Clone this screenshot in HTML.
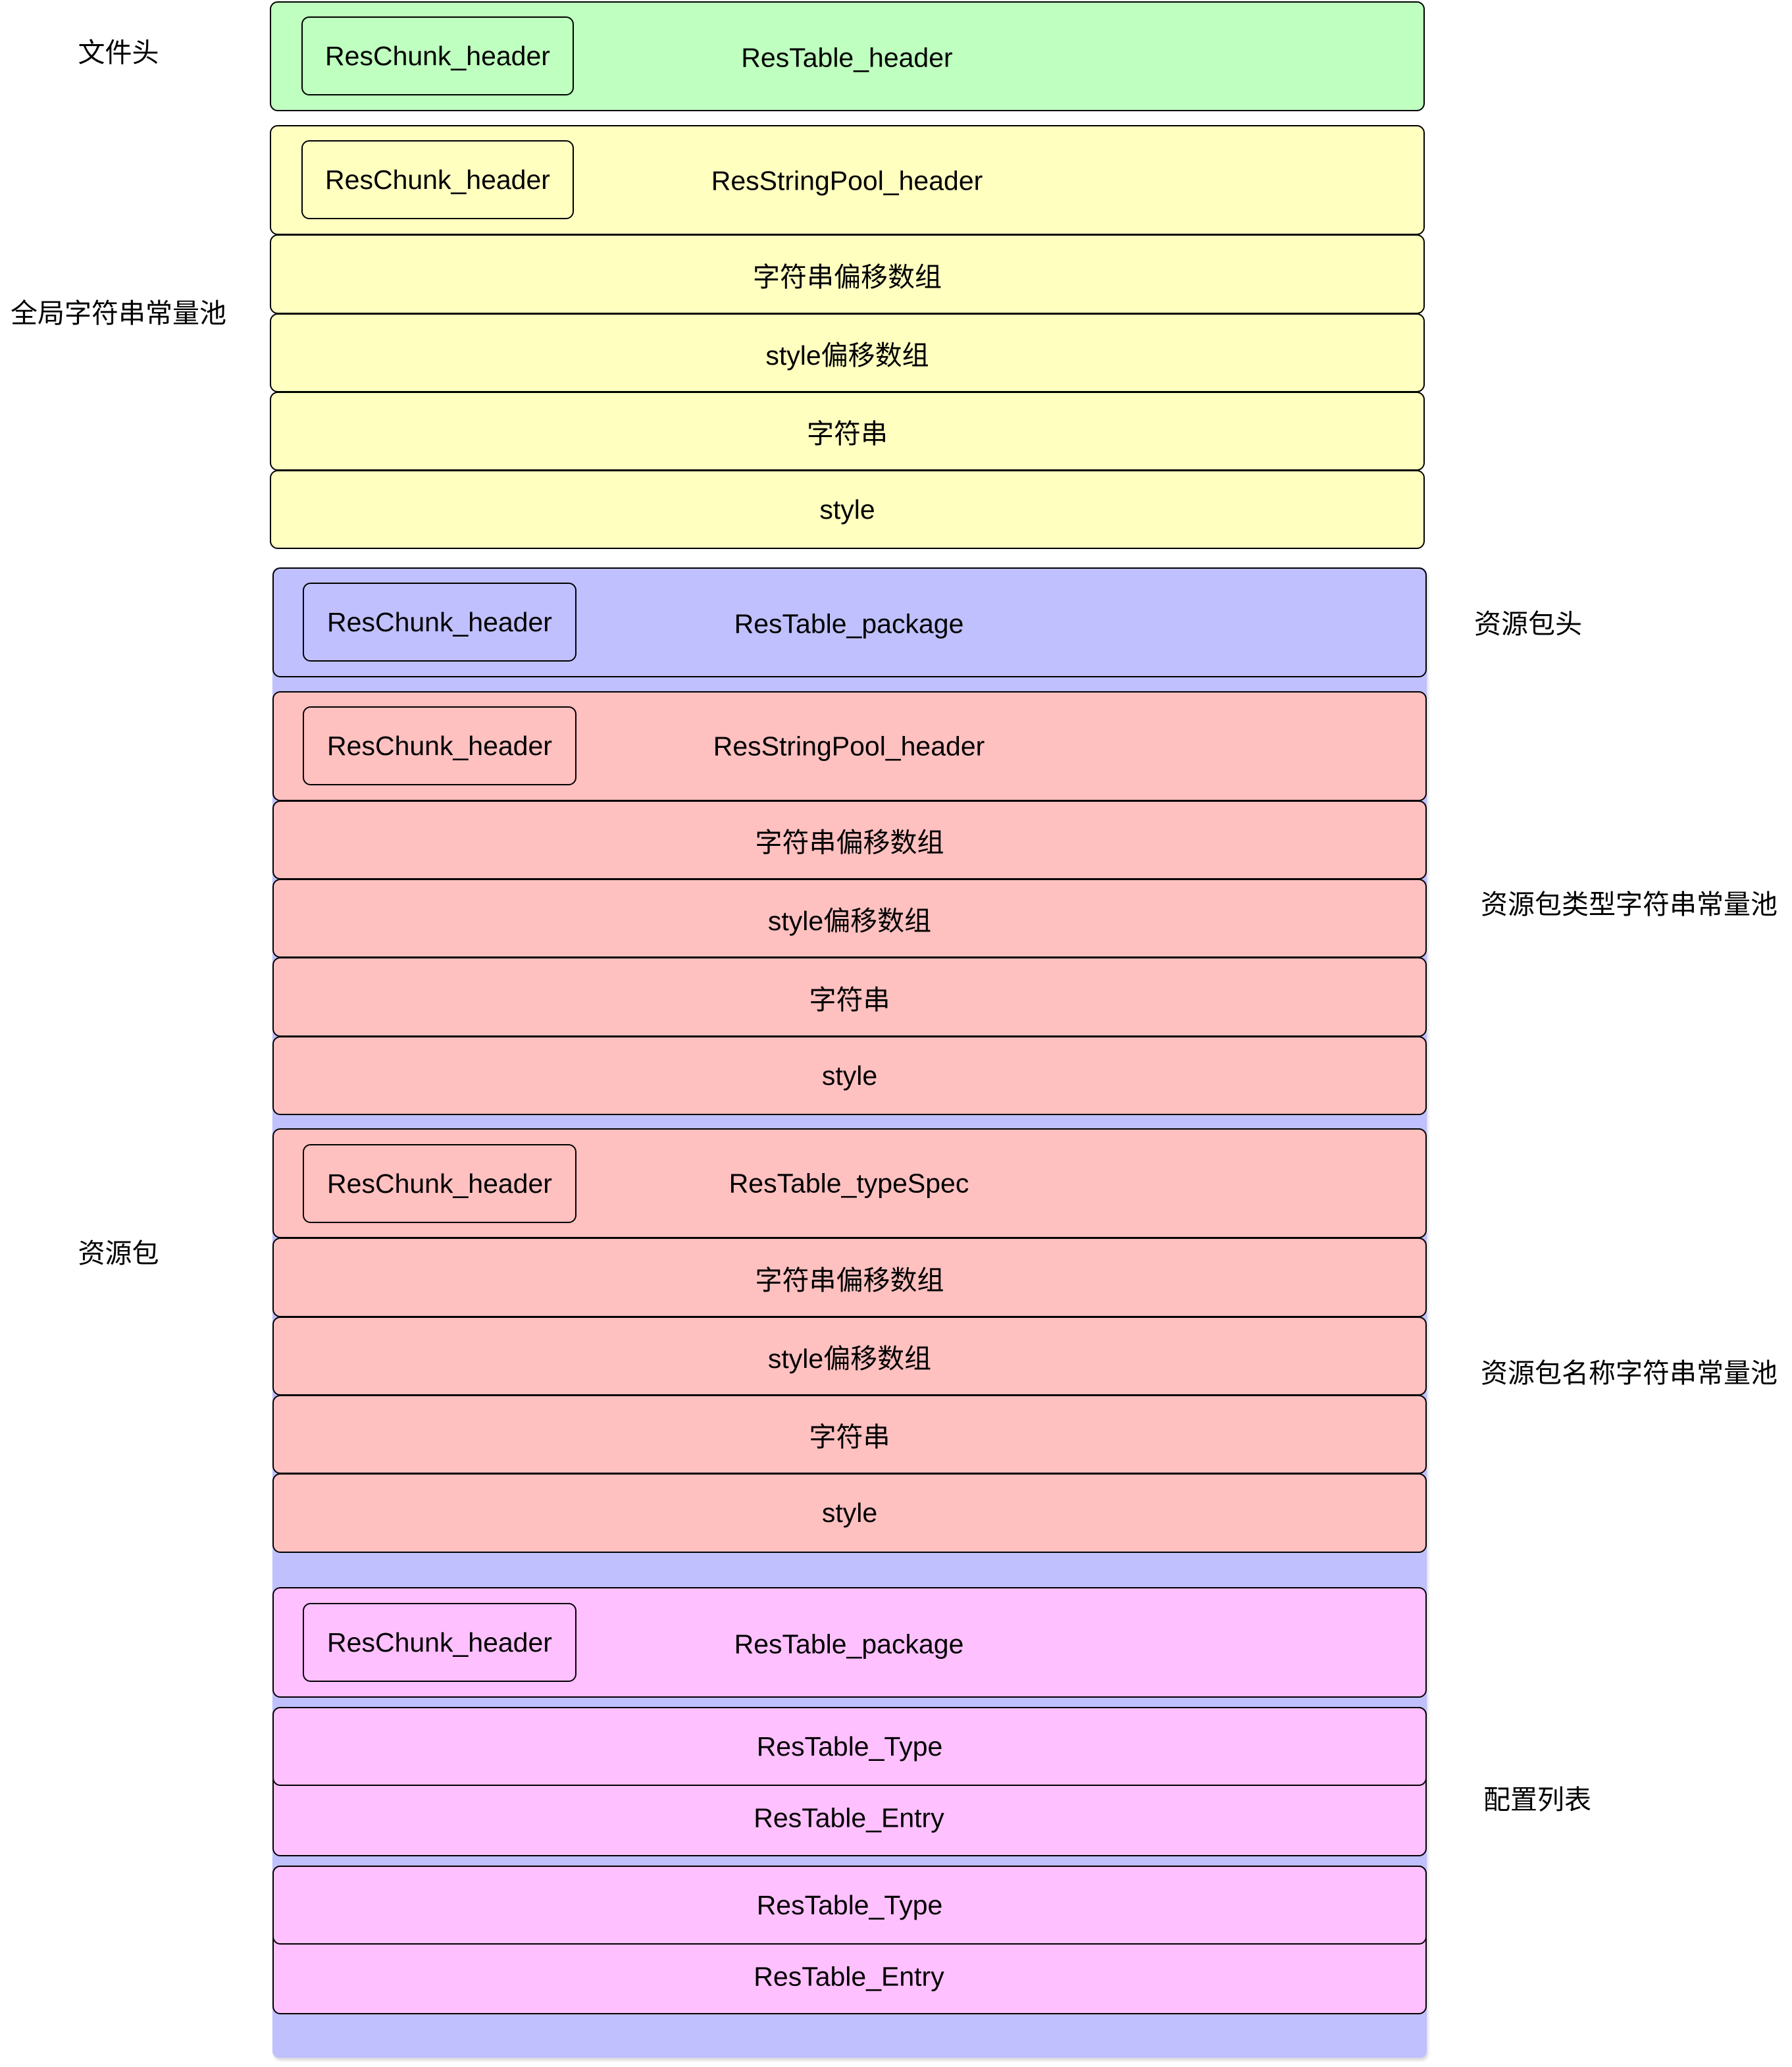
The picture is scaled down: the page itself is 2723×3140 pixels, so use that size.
<!DOCTYPE html>
<html><head><meta charset="utf-8"><style>
body{margin:0;width:2723px;height:3140px;background:#fff;position:relative;overflow:hidden;font-family:"Liberation Sans","Noto Sans CJK SC",sans-serif;}
.b{position:absolute;box-sizing:border-box;border:2.5px solid #000;border-radius:12px;display:flex;align-items:center;justify-content:center;font-size:41px;color:#000;}
.i{position:absolute;box-sizing:border-box;border:2.5px solid #000;border-radius:12px;display:flex;align-items:center;justify-content:center;font-size:41px;}
.t{position:absolute;font-size:41px;white-space:nowrap;transform:translate(-50%,-50%);}
.l{position:absolute;font-size:41px;white-space:nowrap;transform:translateY(-50%);}
.g{background:#bfffbf}.y{background:#ffffc0}.p{background:#ffc0c0}.m{background:#ffc0ff}
.bg{position:absolute;background:#c0c0ff;border-radius:10px;box-shadow:2px 4px 4px rgba(0,0,0,0.15);}
</style></head><body>
<div class="b g" style="left:410px;top:2px;width:1755px;height:167px"></div>
<div class="i g" style="left:458px;top:25px;width:414px;height:120px">ResChunk_header</div>
<div class="t" style="left:1287px;top:88px">ResTable_header</div>
<div class="b y" style="left:410px;top:190px;width:1755px;height:167px"></div>
<div class="i y" style="left:458px;top:213px;width:414px;height:120px">ResChunk_header</div>
<div class="t" style="left:1287px;top:275px">ResStringPool_header</div>
<div class="b y" style="left:410px;top:356px;width:1755px;height:121px">字符串偏移数组</div>
<div class="b y" style="left:410px;top:476px;width:1755px;height:120px">style偏移数组</div>
<div class="b y" style="left:410px;top:595px;width:1755px;height:120px">字符串</div>
<div class="b y" style="left:410px;top:714px;width:1755px;height:120px">style</div>
<div class="bg" style="left:414px;top:862px;width:1754px;height:2264px"></div>
<div class="b" style="left:414px;top:862px;width:1754px;height:167px;background:#c0c0ff"></div>
<div class="i" style="left:460px;top:885px;width:416px;height:120px;background:#c0c0ff">ResChunk_header</div>
<div class="t" style="left:1290px;top:948px">ResTable_package</div>
<div class="b p" style="left:414px;top:1050px;width:1754px;height:167px"></div>
<div class="i p" style="left:460px;top:1073px;width:416px;height:120px">ResChunk_header</div>
<div class="t" style="left:1290px;top:1134px">ResStringPool_header</div>
<div class="b p" style="left:414px;top:1216px;width:1754px;height:120px">字符串偏移数组</div>
<div class="b p" style="left:414px;top:1335px;width:1754px;height:120px">style偏移数组</div>
<div class="b p" style="left:414px;top:1454px;width:1754px;height:121px">字符串</div>
<div class="b p" style="left:414px;top:1574px;width:1754px;height:120px">style</div>
<div class="b p" style="left:414px;top:1714px;width:1754px;height:167px"></div>
<div class="i p" style="left:460px;top:1738px;width:416px;height:120px">ResChunk_header</div>
<div class="t" style="left:1290px;top:1798px">ResTable_typeSpec</div>
<div class="b p" style="left:414px;top:1880px;width:1754px;height:121px">字符串偏移数组</div>
<div class="b p" style="left:414px;top:2000px;width:1754px;height:120px">style偏移数组</div>
<div class="b p" style="left:414px;top:2119px;width:1754px;height:120px">字符串</div>
<div class="b p" style="left:414px;top:2238px;width:1754px;height:121px">style</div>
<div class="b m" style="left:414px;top:2411px;width:1754px;height:168px"></div>
<div class="i m" style="left:460px;top:2435px;width:416px;height:120px">ResChunk_header</div>
<div class="t" style="left:1290px;top:2498px">ResTable_package</div>
<div class="b m" style="left:414px;top:2593px;width:1754px;height:227px"></div>
<div class="b m" style="left:414px;top:2593px;width:1754px;height:120px">ResTable_Type</div>
<div class="t" style="left:1290px;top:2762px">ResTable_Entry</div>
<div class="b m" style="left:414px;top:2834px;width:1754px;height:226px"></div>
<div class="b m" style="left:414px;top:2834px;width:1754px;height:120px">ResTable_Type</div>
<div class="t" style="left:1290px;top:3003px">ResTable_Entry</div>
<div class="t" style="left:180px;top:76px">文件头</div>
<div class="t" style="left:180px;top:472px">全局字符串常量池</div>
<div class="t" style="left:180px;top:1900px">资源包</div>
<div class="l" style="left:2240px;top:944px">资源包头</div>
<div class="l" style="left:2250px;top:1370px">资源包类型字符串常量池</div>
<div class="l" style="left:2250px;top:2082px">资源包名称字符串常量池</div>
<div class="l" style="left:2254px;top:2730px">配置列表</div>
</body></html>
